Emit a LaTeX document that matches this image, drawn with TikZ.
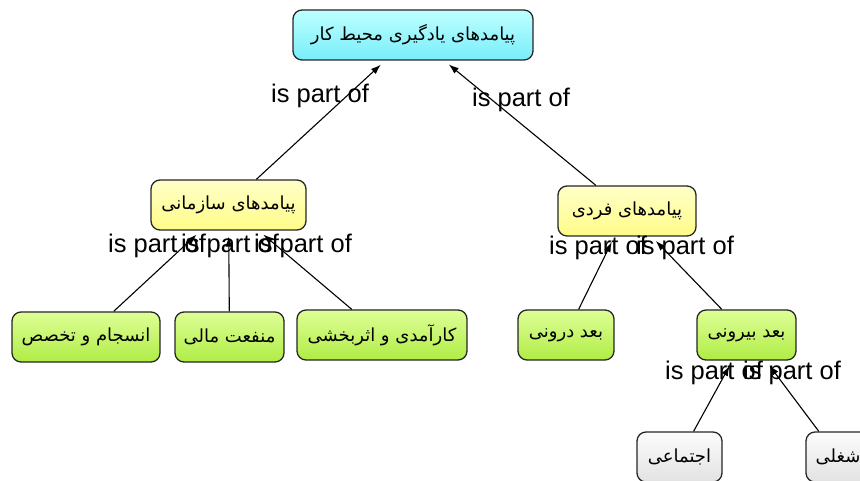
\documentclass[tikz,border=0pt]{standalone}
\usepackage{fontspec}
\setmainfont{Liberation Sans}
\newfontfamily\farsi[Script=Arabic]{DejaVu Sans}
\TeXXeTstate=1
\usetikzlibrary{arrows.meta}
\usepackage{xcolor}

\definecolor{cyanTop}{RGB}{190,255,255}
\definecolor{cyanBot}{RGB}{120,238,250}
\definecolor{yelTop}{RGB}{255,255,200}
\definecolor{yelBot}{RGB}{255,252,135}
\definecolor{grnTop}{RGB}{222,255,150}
\definecolor{grnBot}{RGB}{176,236,70}
\definecolor{gryTop}{RGB}{252,252,252}
\definecolor{gryBot}{RGB}{226,226,226}

\newcommand{\fa}[1]{{\farsi\beginR #1\endR}}

\begin{document}
\begin{tikzpicture}[x=1pt,y=-1pt,->,>={Latex[length=10pt,width=7pt]},line width=1.1pt,
  concept/.style={draw=black!85,line width=1.3pt,rounded corners=9pt,minimum height=50pt,inner sep=2pt,
    font=\fontsize{18}{21}\selectfont},
  rootbox/.style={concept,top color=cyanTop,bottom color=cyanBot},
  midbox/.style={concept,top color=yelTop,bottom color=yelBot},
  leafbox/.style={concept,top color=grnTop,bottom color=grnBot},
  endbox/.style={concept,top color=gryTop,bottom color=gryBot},
  link/.style={font=\fontsize{25.5}{28}\selectfont,inner sep=0pt}]
  \useasboundingbox (0,0) rectangle (860,481);

  \node[rootbox,minimum width=240pt] (root) at (413,35)    {\fa{پیامدهای یادگیری محیط کار}};
  \node[midbox,minimum width=155pt]  (org)  at (228.5,205) {\fa{پیامدهای سازمانی}};
  \node[midbox,minimum width=138pt]  (ind)  at (627,211)   {\fa{پیامدهای فردی}};

  \node[leafbox,minimum width=148pt] (coh)  at (86,337)    {\fa{انسجام و تخصص}};
  \node[leafbox,minimum width=109pt] (fin)  at (229.5,337) {\fa{منفعت مالی}};
  \node[leafbox,minimum width=170pt] (eff)  at (382,335)   {\fa{کارآمدی و اثربخشی}};
  \node[leafbox,minimum width=96pt]  (inner) at (566,335)  {\fa{بعد درونی}};
  \node[leafbox,minimum width=99pt]  (outer) at (746.5,335) {\fa{بعد بیرونی}};

  \node[endbox,minimum width=85pt]   (soc)  at (679.5,457) {\fa{اجتماعی}};
  \node[endbox,minimum width=64pt]   (job)  at (838,457)   {\fa{شغلی}};

  % link labels
  \node[link] (l1) at (320,96)  {is part of};
  \node[link] (l2) at (521,100) {is part of};
  \node[link] (l3) at (157,246) {is part of};
  \node[link] (l4) at (230,246) {is part of};
  \node[link] (l5) at (303,246) {is part of};
  \node[link] (l6) at (598,248) {is part of};
  \node[link] (l7) at (685,248) {is part of};
  \node[link] (l8) at (714,373) {is part of};
  \node[link] (l9) at (792,373) {is part of};

  \path[shorten >=6pt]
    (org)   edge (root)
    (ind)   edge (root)
    (coh)   edge (org)
    (fin)   edge (org)
    (eff)   edge (org)
    (inner) edge (ind)
    (outer) edge (ind)
    (soc)   edge (outer)
    (job)   edge (outer);
\end{tikzpicture}
\end{document}
